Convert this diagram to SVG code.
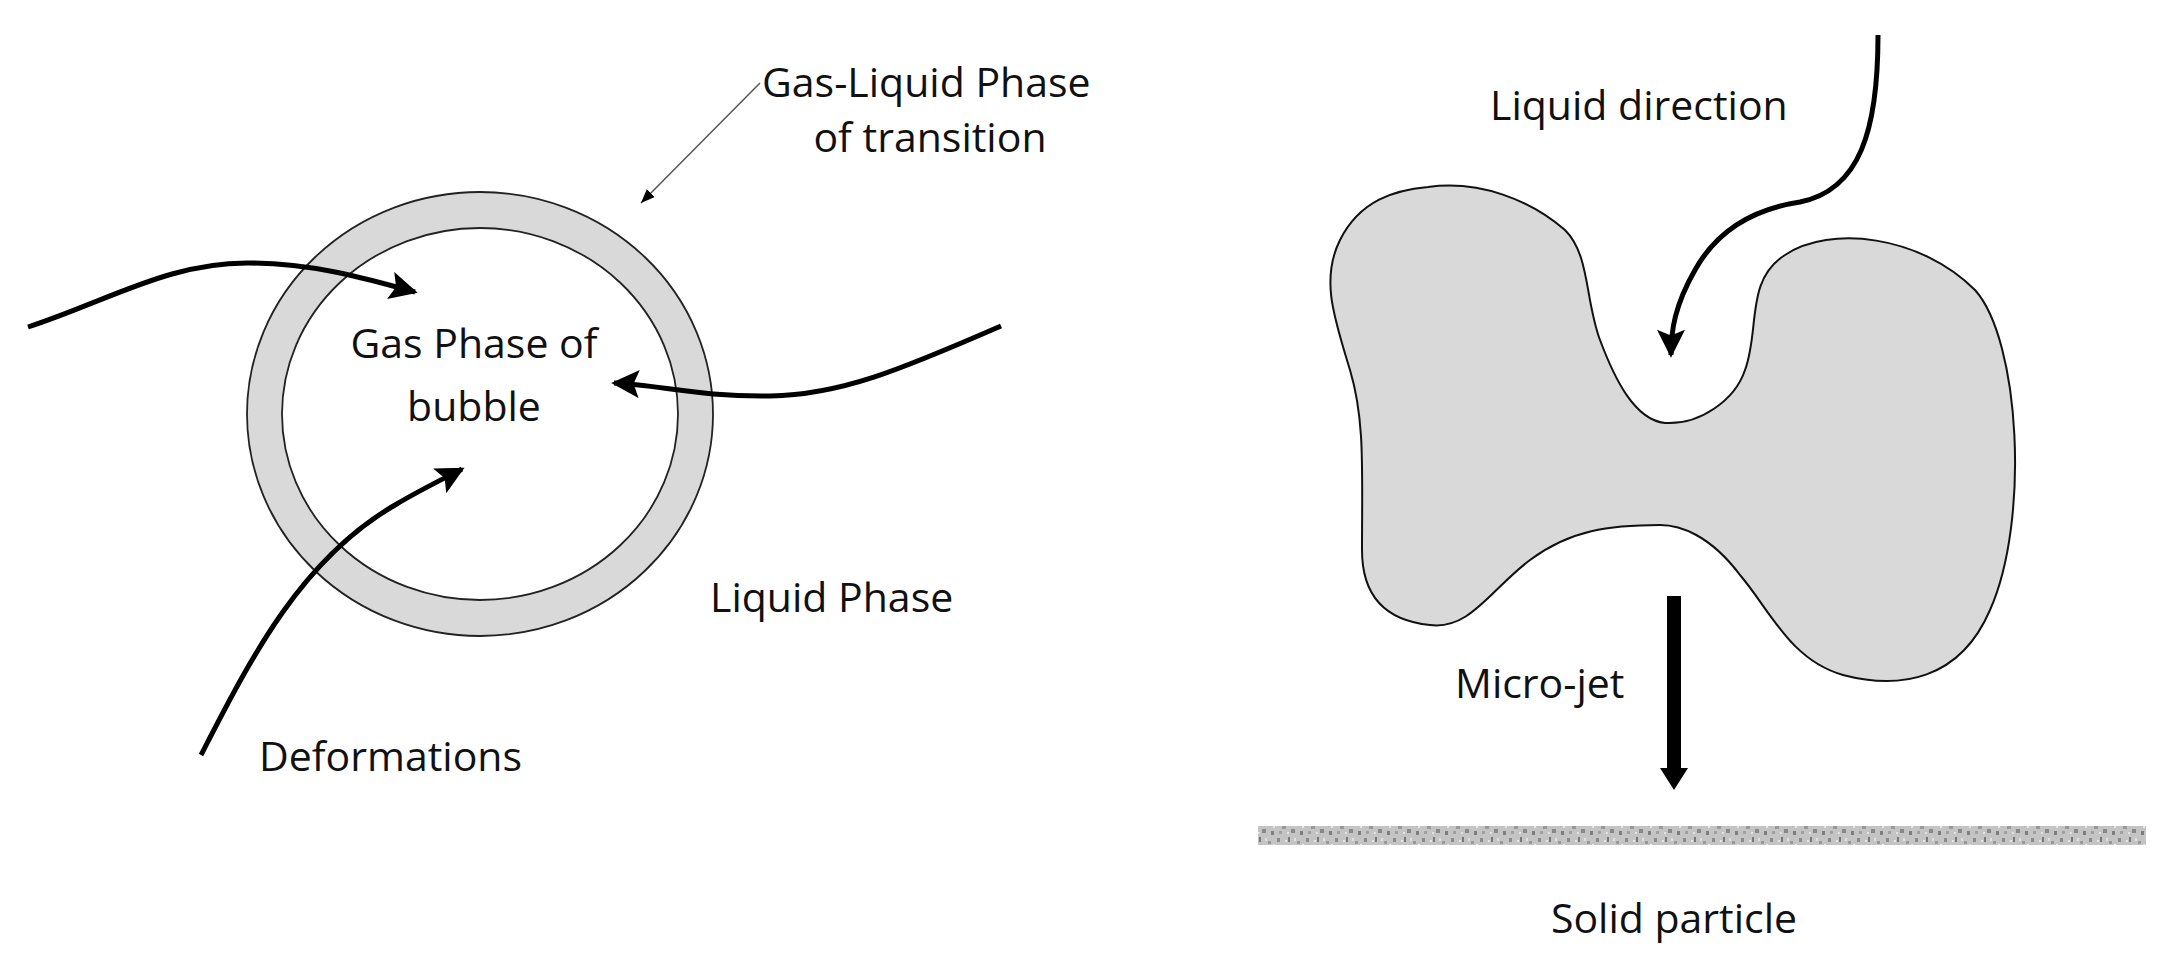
<svg xmlns="http://www.w3.org/2000/svg" width="2174" height="966" viewBox="0 0 2174 966">
<style>
text{font-family:"Open Sans","Liberation Sans",sans-serif;font-size:41px;fill:#111}
.arr{fill:none;stroke:#000;stroke-width:5;stroke-linecap:butt}
</style>
<defs>
<marker id="hs" viewBox="0 0 10 10" refX="10" refY="5" markerWidth="14" markerHeight="12" markerUnits="userSpaceOnUse" orient="auto">
<path d="M0,0 L10,5 L0,10 Z" fill="#000"/>
</marker>
<marker id="big" viewBox="0 0 10 10" refX="9" refY="5" markerWidth="30" markerHeight="28" markerUnits="userSpaceOnUse" orient="auto">
<path d="M0,0 L10,5 L0,10 L2,5 Z" fill="#000"/>
</marker>
<marker id="thin" viewBox="0 0 10 10" refX="10" refY="5" markerWidth="14" markerHeight="14" markerUnits="userSpaceOnUse" orient="auto">
<path d="M0,1 L10,5 L0,9 Z" fill="#000"/>
</marker>
<pattern id="speck" width="29" height="19" patternUnits="userSpaceOnUse">
<rect width="29" height="19" fill="#c4c4c4"/>
<rect x="1" y="2" width="3" height="4" fill="#8a8a8a"/>
<rect x="6" y="9" width="4" height="3" fill="#999"/>
<rect x="12" y="1" width="2" height="5" fill="#777"/>
<rect x="15" y="12" width="4" height="4" fill="#888"/>
<rect x="21" y="5" width="3" height="3" fill="#9a9a9a"/>
<rect x="24" y="14" width="3" height="4" fill="#7e7e7e"/>
<rect x="3" y="14" width="3" height="3" fill="#a0a0a0"/>
<rect x="9" y="4" width="2" height="2" fill="#e6e6e6"/>
<rect x="18" y="2" width="2" height="3" fill="#e0e0e0"/>
<rect x="26" y="8" width="2" height="3" fill="#e8e8e8"/>
<rect x="11" y="15" width="2" height="2" fill="#e2e2e2"/>
</pattern>
</defs>
<g id="bubble">
<ellipse cx="480" cy="414" rx="233" ry="222" fill="#d9d9d9" stroke="#222" stroke-width="1.8"/>
<ellipse cx="480" cy="414" rx="198" ry="186" fill="#fff" stroke="#222" stroke-width="1.8"/>
</g>
<g id="blob">
<path d="M1428,187 C1480,180 1530,200 1565,230 C1590,255 1585,300 1600,340 C1615,380 1635,420 1665,423 C1700,425 1735,400 1745,370 C1760,330 1745,280 1785,255 C1830,225 1920,235 1975,290 C2020,340 2030,520 1990,610 C1960,680 1900,690 1843,675 C1790,660 1770,610 1740,575 C1710,535 1680,525 1660,525 C1610,525 1570,530 1530,560 C1490,590 1470,630 1430,625 C1380,620 1362,590 1362,550 C1362,470 1365,420 1350,370 C1335,320 1320,280 1340,240 C1360,200 1395,190 1428,187 Z" fill="#d9d9d9" stroke="#111" stroke-width="2"/>
</g>
<g id="solid">
<rect x="1258" y="826" width="888" height="19" fill="url(#speck)"/>
</g>
<g id="connectors">
<path class="arr" d="M28,327 C110,300 170,262 250,263 C320,264 370,280 415,292" marker-end="url(#big)"/>
<path class="arr" d="M1001,326 C900,370 840,395 770,396 C700,397 660,385 614,383" marker-end="url(#big)"/>
<path class="arr" d="M201,755 C250,660 300,560 395,505 C420,490 445,478 462,469" marker-end="url(#big)"/>
<path class="arr" d="M1878,35 C1878,130 1860,190 1800,202 C1760,208 1720,225 1695,270 C1675,305 1671,330 1671,355" marker-end="url(#big)"/>
<path d="M760,83 L641,203" fill="none" stroke="#555" stroke-width="1.5" marker-end="url(#thin)"/>
<path d="M1674,596 L1674,770" fill="none" stroke="#000" stroke-width="14" marker-end="url(#hs)"/>
<path d="M1660,768 L1688,768 L1674,790 Z" fill="#000"/>
</g>
<g id="labels">
<text x="762" y="97">Gas-Liquid Phase</text>
<text x="930" y="152" text-anchor="middle">of transition</text>
<text x="474" y="358" text-anchor="middle">Gas Phase of</text>
<text x="474" y="421" text-anchor="middle">bubble</text>
<text x="710" y="612">Liquid Phase</text>
<text x="259" y="771">Deformations</text>
<text x="1490" y="120">Liquid direction</text>
<text x="1455" y="698">Micro-jet</text>
<text x="1674" y="933" text-anchor="middle">Solid particle</text>
</g>
</svg>
